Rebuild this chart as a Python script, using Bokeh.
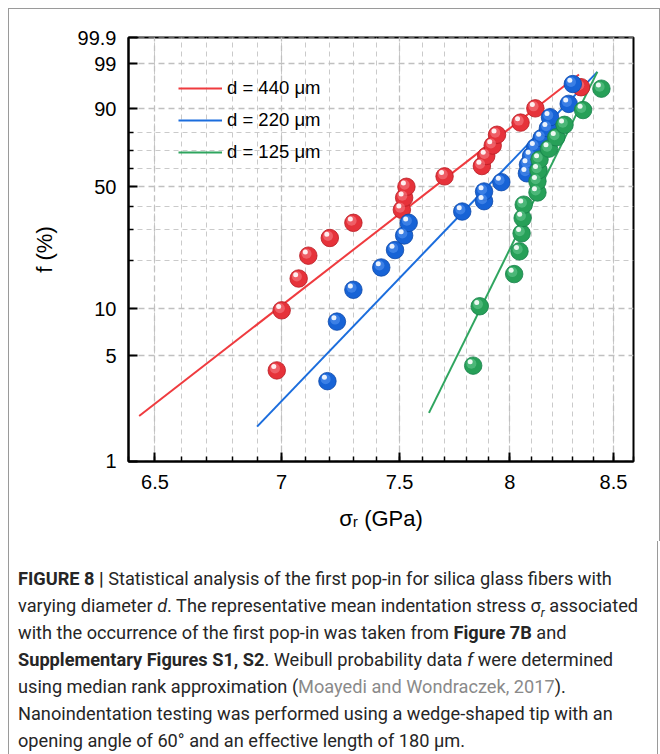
import numpy as np
from bokeh.plotting import figure
from bokeh.models import (Range1d, FixedTicker, CustomJSTickFormatter, Legend, LegendItem, Div)
from bokeh.layouts import column, row
from bokeh.embed import file_html
from bokeh.resources import INLINE

# ---------------- data ----------------
red_sigma = [6.98, 7.00, 7.07, 7.11, 7.20, 7.30, 7.51, 7.52, 7.53, 7.70,
             7.87, 7.89, 7.92, 7.94, 8.05, 8.12, 8.34]
red_f = [4.0, 9.8, 15.5, 21.3, 27.0, 32.8, 38.5, 44.3, 50.0, 55.7,
         61.5, 67.2, 73.0, 78.7, 84.5, 90.2, 96.0]

blue_sigma = [7.19, 7.23, 7.30, 7.42, 7.48, 7.52, 7.54, 7.78, 7.88, 7.88,
              7.96, 8.08, 8.085, 8.10, 8.12, 8.15, 8.18, 8.19, 8.28, 8.30]
blue_f = [3.4, 8.3, 13.2, 18.1, 23.0, 27.9, 32.8, 37.7, 42.6, 47.5,
          52.5, 57.4, 62.3, 67.2, 72.1, 77.0, 81.9, 86.8, 91.7, 96.6]

green_sigma = [7.83, 7.86, 8.02, 8.045, 8.055, 8.06, 8.065, 8.13, 8.13, 8.135,
               8.14, 8.185, 8.22, 8.26, 8.35, 8.44]
green_f = [4.3, 10.4, 16.5, 22.6, 28.7, 34.8, 40.9, 47.0, 53.0, 59.1,
           65.2, 71.3, 77.4, 83.5, 89.6, 95.7]

red_fit_sigma = [6.44, 8.33]
red_fit_f = [2.0, 98.0]
blue_fit_sigma = [6.90, 8.42]
blue_fit_f = [1.7, 98.3]
green_fit_sigma = [7.63, 8.42]
green_fit_f = [2.1, 98.3]

series_labels = ["d = 440 μm", "d = 220 μm", "d = 125 μm"]

x_ticks = [6.5, 7.0, 7.5, 8.0, 8.5]
x_minor = [round(6.4 + 0.1 * i, 1) for i in range(23)]
y_tick_pct = [1, 5, 10, 50, 90, 99, 99.9]
y_minor_pct = [20, 30, 40, 60, 70, 80]

x_label = "σᵣ (GPa)"
y_label = "f (%)"


def weib(f_percent):
    f = np.asarray(f_percent, dtype=float) / 100.0
    return np.log(-np.log(1.0 - f))


# ---------------- figure ----------------
FW, FH = 505, 424
X0, X1 = 6.4, 8.6
W_LO = float(weib([1.0])[0]) - 0.003
W_HI = float(weib([99.9])[0]) + 0.003

BORDER_COL = "#9a9a9a"
BORDER = "1px solid " + BORDER_COL

p = figure(frame_width=FW, frame_height=FH, x_axis_type="log",
           x_range=Range1d(X0, X1), y_range=Range1d(W_LO, W_HI),
           output_backend="svg", toolbar_location=None,
           min_border_left=119, min_border_right=26, min_border_top=28,
           min_border_bottom=80, background_fill_color="white",
           border_fill_color="white", margin=0)

p.outline_line_color = "black"
p.outline_line_width = 2
p.outline_line_alpha = 1

xt = FixedTicker(ticks=x_ticks, minor_ticks=x_minor)
yt = FixedTicker(ticks=[float(v) for v in weib(y_tick_pct)],
                 minor_ticks=[float(v) for v in weib(y_minor_pct)])
p.xaxis.ticker = xt
p.yaxis.ticker = yt
p.xgrid.ticker = xt
p.ygrid.ticker = yt
p.xaxis.formatter = CustomJSTickFormatter(code="return (Math.round(tick*10)/10).toString();")
p.yaxis.formatter = CustomJSTickFormatter(
    code="const f = 100*(1 - Math.exp(-Math.exp(tick))); return (Math.round(f*10)/10).toString();")

for ax in (p.xaxis[0], p.yaxis[0]):
    ax.axis_line_color = "black"
    ax.axis_line_width = 2
    ax.major_tick_in = 9
    ax.major_tick_out = 0
    ax.minor_tick_in = 5
    ax.minor_tick_out = 0
    ax.major_tick_line_width = 2
    ax.minor_tick_line_width = 1.5
    ax.major_tick_line_color = "black"
    ax.minor_tick_line_color = "black"
    ax.major_label_text_font = "Liberation Sans"
    ax.major_label_text_font_size = "20px"
    ax.major_label_text_color = "black"
    ax.axis_label_text_font = "Liberation Sans"
    ax.axis_label_text_font_size = "22px"
    ax.axis_label_text_font_style = "normal"
    ax.axis_label_text_color = "black"

p.xaxis.axis_label = x_label
p.yaxis.axis_label = y_label
p.xaxis.major_label_standoff = 13
p.yaxis.major_label_standoff = 12
p.xaxis.axis_label_standoff = 14
p.yaxis.axis_label_standoff = 18

for g in (p.xgrid[0], p.ygrid[0]):
    g.grid_line_color = "#c0c0c0"
    g.grid_line_dash = "6 4"
    g.grid_line_width = 1.3
    g.minor_grid_line_color = "#cacaca"
    g.minor_grid_line_dash = "5 4"
    g.minor_grid_line_width = 1

# ---------------- marks ----------------
line_cols = ["#ef3b3f", "#1b6ddd", "#2fa55f"]
base_cols = ["#e6323a", "#1763d6", "#27a058"]
rim_cols = ["#b81a22", "#0c47a8", "#17804a"]
mid_cols = ["#f5848a", "#5a98f2", "#6acb93"]

fits = [(red_fit_sigma, red_fit_f), (blue_fit_sigma, blue_fit_f), (green_fit_sigma, green_fit_f)]
pts = [(red_sigma, red_f), (blue_sigma, blue_f), (green_sigma, green_f)]

line_renderers = []
for (fs, ff), c in zip(fits, line_cols):
    r = p.line(fs, weib(ff), line_color=c, line_width=2)
    line_renderers.append(r)

px_per_logx = FW / np.log(X1 / X0)
px_per_w = FH / (W_HI - W_LO)


def shifted(s, f, dx, dy):
    return (np.asarray(s) * np.exp(dx / px_per_logx), weib(f) + dy / px_per_w)


for (s, f), bc, rc, mc in zip(pts, base_cols, rim_cols, mid_cols):
    p.scatter(s, weib(f), size=17.5, fill_color=bc, line_color=rc, line_width=0.8)
    hx, hy = shifted(s, f, -1.8, 2.0)
    p.scatter(hx, hy, size=10, fill_color=mc, fill_alpha=0.55, line_color=None)
    sx, sy = shifted(s, f, -3.0, 3.8)
    p.scatter(sx, sy, size=5, fill_color="white", fill_alpha=0.9, line_color=None)

legend = Legend(items=[LegendItem(label=lab, renderers=[r]) for lab, r in zip(series_labels, line_renderers)],
                location=(50, 298))
legend.label_text_font = "Liberation Sans"
legend.label_text_font_size = "18.5px"
legend.label_text_color = "black"
legend.glyph_width = 44
legend.glyph_height = 20
legend.label_height = 20
legend.spacing = 10
legend.padding = 0
legend.margin = 0
legend.label_standoff = 5
legend.border_line_color = None
legend.background_fill_alpha = 0
p.add_layout(legend)

# ---------------- caption ----------------
caption = (
    '<div style="font-family:Roboto, \'Liberation Sans\', sans-serif; font-size:18.2px; '
    'line-height:27px; color:#262626; white-space:nowrap; padding:24px 0 0 9px;">'
    '<b>FIGURE 8 |</b> Statistical analysis of the first pop-in for silica glass fibers with<br>'
    'varying diameter <i>d</i>. The representative mean indentation stress σ'
    '<sub style="font-size:12px;line-height:0"><i>r</i></sub> associated<br>'
    'with the occurrence of the first pop-in was taken from <b>Figure 7B</b> and<br>'
    '<b>Supplementary Figures S1, S2</b>. Weibull probability data <i>f</i> were determined<br>'
    'using median rank approximation (<span style="color:#8a8a8a">Moayedi and Wondraczek, 2017</span>).<br>'
    'Nanoindentation testing was performed using a wedge-shaped tip with an<br>'
    'opening angle of 60° and an effective length of 180 μm.'
    '</div>'
)
div = Div(text=caption, width=650, height=213, margin=0,
          stylesheets=[":host { border-left: %s !important; border-right: %s !important; }" % (BORDER, BORDER)])

# thin frame pieces around the chart part
FIG_H = 28 + FH + 80
top_line = Div(text="", width=652, height=1, margin=0, styles={"background-color": BORDER_COL})
left_line = Div(text="", width=1, height=FIG_H, margin=0, styles={"background-color": BORDER_COL})
right_line = Div(text="", width=1, height=FIG_H, margin=0, styles={"background-color": BORDER_COL})

layout = column(top_line, row(left_line, p, right_line, spacing=0, margin=0), div,
                spacing=0, margin=(8, 0, 0, 8))

open("out.html", "w").write(file_html(layout, INLINE))
